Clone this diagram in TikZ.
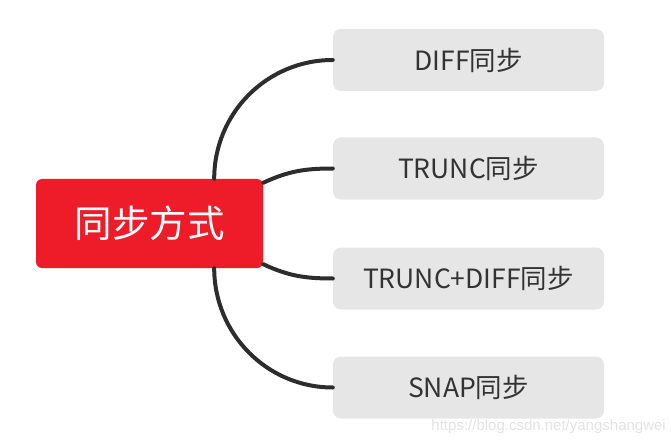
\documentclass[tikz,border=0pt]{standalone}
\usepackage{fontspec}
\setmainfont{Noto Sans CJK SC}
\newfontfamily\markfont{Liberation Sans}
\usepackage{xcolor}
\usetikzlibrary{positioning}
\definecolor{rootred}{RGB}{238,27,40}
\definecolor{leafgray}{RGB}{230,230,230}
\definecolor{linkgray}{RGB}{45,45,45}
\definecolor{textgray}{RGB}{51,51,51}

\begin{document}
\begin{tikzpicture}[x=1pt, y=1pt,
    rootbox/.style={fill=rootred, rounded corners=6pt, minimum width=227pt, minimum height=89pt,
        text=white, font=\fontsize{37.5}{40}\selectfont, inner sep=0pt},
    leafbox/.style={fill=leafgray, rounded corners=8pt, minimum width=271pt, minimum height=62pt,
        text=textgray, font=\fontsize{26.5}{30}\selectfont, inner sep=0pt},
    link/.style={draw=linkgray, line width=4pt, line cap=round}]
    \useasboundingbox (0,0) rectangle (671,445);

    % Root
    \node [rootbox] (root) at (149.5, 221.5) {同步方式};

    % Leaves
    \node [leafbox] (diff)  at (468.5, 385)   {DIFF同步};
    \node [leafbox] (trunc) at (468.5, 276.5) {TRUNC同步};
    \node [leafbox] (both)  at (468.5, 166.5) {TRUNC+DIFF同步};
    \node [leafbox] (snap)  at (468.5, 57.5)  {SNAP同步};

    % Links
    \draw [link] ([xshift=-49pt]root.north east) to[out=90, in=180] (diff.west);
    \draw [link] ([yshift=-4pt]root.north east) to[out=25, in=180] (trunc.west);
    \draw [link] ([yshift=4pt]root.south east) to[out=-25, in=180] (both.west);
    \draw [link] ([xshift=-49pt]root.south east) to[out=-90, in=180] (snap.west);

    % Watermark
    \node [anchor=east, text=black!11, font=\markfont\fontsize{15}{18}\selectfont, inner sep=0pt]
        (mark) at (666, 18) {https://blog.csdn.net/yangshangwei};
\end{tikzpicture}
\end{document}
